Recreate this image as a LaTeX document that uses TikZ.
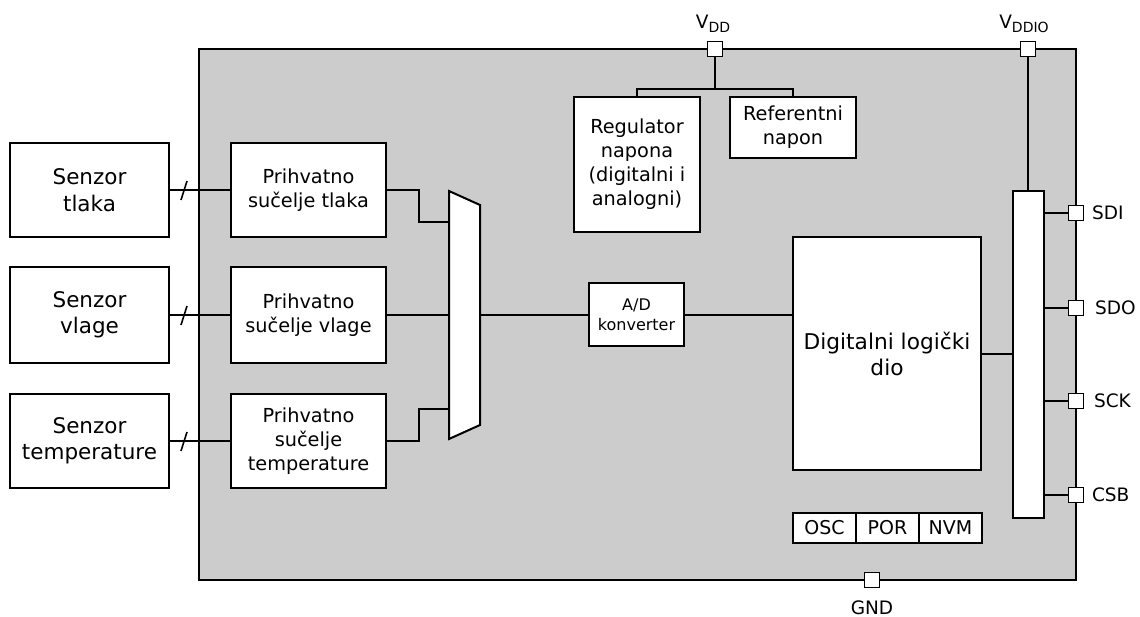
\documentclass[tikz,border=0pt]{standalone}
\usepackage{fontspec}
\setmainfont{DejaVu Sans}
\usetikzlibrary{calc}
\definecolor{chipgray}{HTML}{CCCCCC}
\newcommand{\pinsub}[1]{{\fontsize{14}{14}\selectfont\raisebox{-3.5pt}{#1}}}
\begin{document}
\begin{tikzpicture}[x=1pt,y=-1pt,
  line width=2pt,
  blk/.style={draw=black,fill=white,rectangle,inner sep=0pt,align=center},
  sens/.style={blk,font=\fontsize{21.5}{26.5}\selectfont},
  iface/.style={blk,font=\fontsize{19.3}{24}\selectfont},
  pin/.style={draw=black,fill=white,rectangle,inner sep=0pt,minimum size=15pt,line width=1.6pt},
  pinlbl/.style={font=\fontsize{18.5}{22}\selectfont,inner sep=0pt},
  wire/.style={draw=black,line width=2pt}]
\useasboundingbox (0,0) rectangle (1140,617);
% chip body
\draw[fill=chipgray] (199,49) rectangle (1076,580);
% sensors
\node[sens,minimum width=159pt,minimum height=94pt] (s1) at (89.5,190) {Senzor\\tlaka};
\node[sens,minimum width=159pt,minimum height=96pt] (s2) at (89.5,315) {Senzor\\vlage};
\node[sens,minimum width=159pt,minimum height=94pt] (s3) at (89.5,441) {Senzor\\temperature};
% interfaces
\node[iface,minimum width=155pt,minimum height=94pt] (i1) at (308.5,190) {Prihvatno\\sučelje tlaka};
\node[iface,minimum width=155pt,minimum height=96pt] (i2) at (308.5,315) {Prihvatno\\sučelje vlage};
\node[iface,minimum width=155pt,minimum height=94pt] (i3) at (308.5,441) {Prihvatno\\sučelje\\temperature};
% mux
\draw[fill=white] (449,191) coordinate (mtl) -- (480,205) -- (480,425) -- (449,439) -- cycle;
\coordinate (m1) at (449,222);
\coordinate (m2) at (449,315);
\coordinate (m3) at (449,409);
\coordinate (mo) at (480,315);
% A/D
\node[blk,font=\fontsize{16}{20}\selectfont,minimum width=95pt,minimum height=63pt] (ad) at (636.5,315) {A/D\\konverter};
% digital
\node[blk,font=\fontsize{21.7}{26}\selectfont,minimum width=188pt,minimum height=233pt] (dig) at (887,353.5) {Digitalni logički\\dio};
% bus
\node[blk,minimum width=31pt,minimum height=327pt] (bus) at (1028,354.5) {};
% regulator, reference
\node[iface,minimum width=126pt,minimum height=135pt] (reg) at (637,164.5) {Regulator\\napona\\(digitalni i\\analogni)};
\node[iface,minimum width=126pt,minimum height=61pt] (ref) at (793,127.5) {Referentni\\napon};
% OSC POR NVM
\node[blk,font=\fontsize{19}{22}\selectfont,minimum width=63pt,minimum height=30pt] (osc) at (824.5,528) {OSC};
\node[blk,font=\fontsize{19}{22}\selectfont,minimum width=63pt,minimum height=30pt] (por) at (887.5,528) {POR};
\node[blk,font=\fontsize{19}{22}\selectfont,minimum width=63pt,minimum height=30pt] (nvm) at (950.5,528) {NVM};
% pins
\node[pin] (vdd) at (715,49) {};
\node[pin] (vddio) at (1028,49) {};
\node[pin] (sdi) at (1076,213) {};
\node[pin] (sdo) at (1076,308) {};
\node[pin] (sck) at (1076,401) {};
\node[pin] (csb) at (1076,495) {};
\node[pin] (gnd) at (872,580) {};
\coordinate (dbus) at (981,354);
% pin labels
\node[pinlbl,anchor=base] (lvdd) at (713,29) {V\pinsub{DD}};
\node[pinlbl,anchor=base] (lvddio) at (1024,29) {V\pinsub{DDIO}};
\node[pinlbl,anchor=west] (lsdi) at (1091,213) {SDI};
\node[pinlbl,anchor=west] (lsdo) at (1094,308) {SDO};
\node[pinlbl,anchor=west] (lsck) at (1093,401) {SCK};
\node[pinlbl,anchor=west] (lcsb) at (1091,495) {CSB};
\node[pinlbl,anchor=base] (lgnd) at (872,614) {GND};
% sensor connections with bus slash
\foreach \s/\i in {s1/i1,s2/i2,s3/i3}{
  \draw[wire] (\s.east) -- (\i.west);
  \draw[line width=1.6pt] ($(\s.east)+(11,10)$) -- ($(\s.east)+(17,-9)$);
}
% interfaces to mux
\draw[wire] (i1.east) -- ++(32,0) |- (m1);
\draw[wire] (i2.east) -- (m2);
\draw[wire] (i3.east) -- ++(32,0) |- (m3);
% mux to A/D to digital
\draw[wire] (mo) -- (ad.west);
\draw[wire] (ad.east) -- (ad.east -| dig.west);
% digital to bus
\draw[wire] (dbus) -- (dbus -| bus.west);
% bus to pins
\foreach \p in {sdi,sdo,sck,csb}{
  \draw[wire] (bus.east |- \p) -- (\p.west);
}
% supply
\draw[wire] (vdd.south) -- ++(0,32) coordinate (j);
\draw[wire] (reg.north) |- (j) -| (ref.north);
\draw[wire] (vddio.south) -- (vddio.south |- bus.north);
\end{tikzpicture}
\end{document}
